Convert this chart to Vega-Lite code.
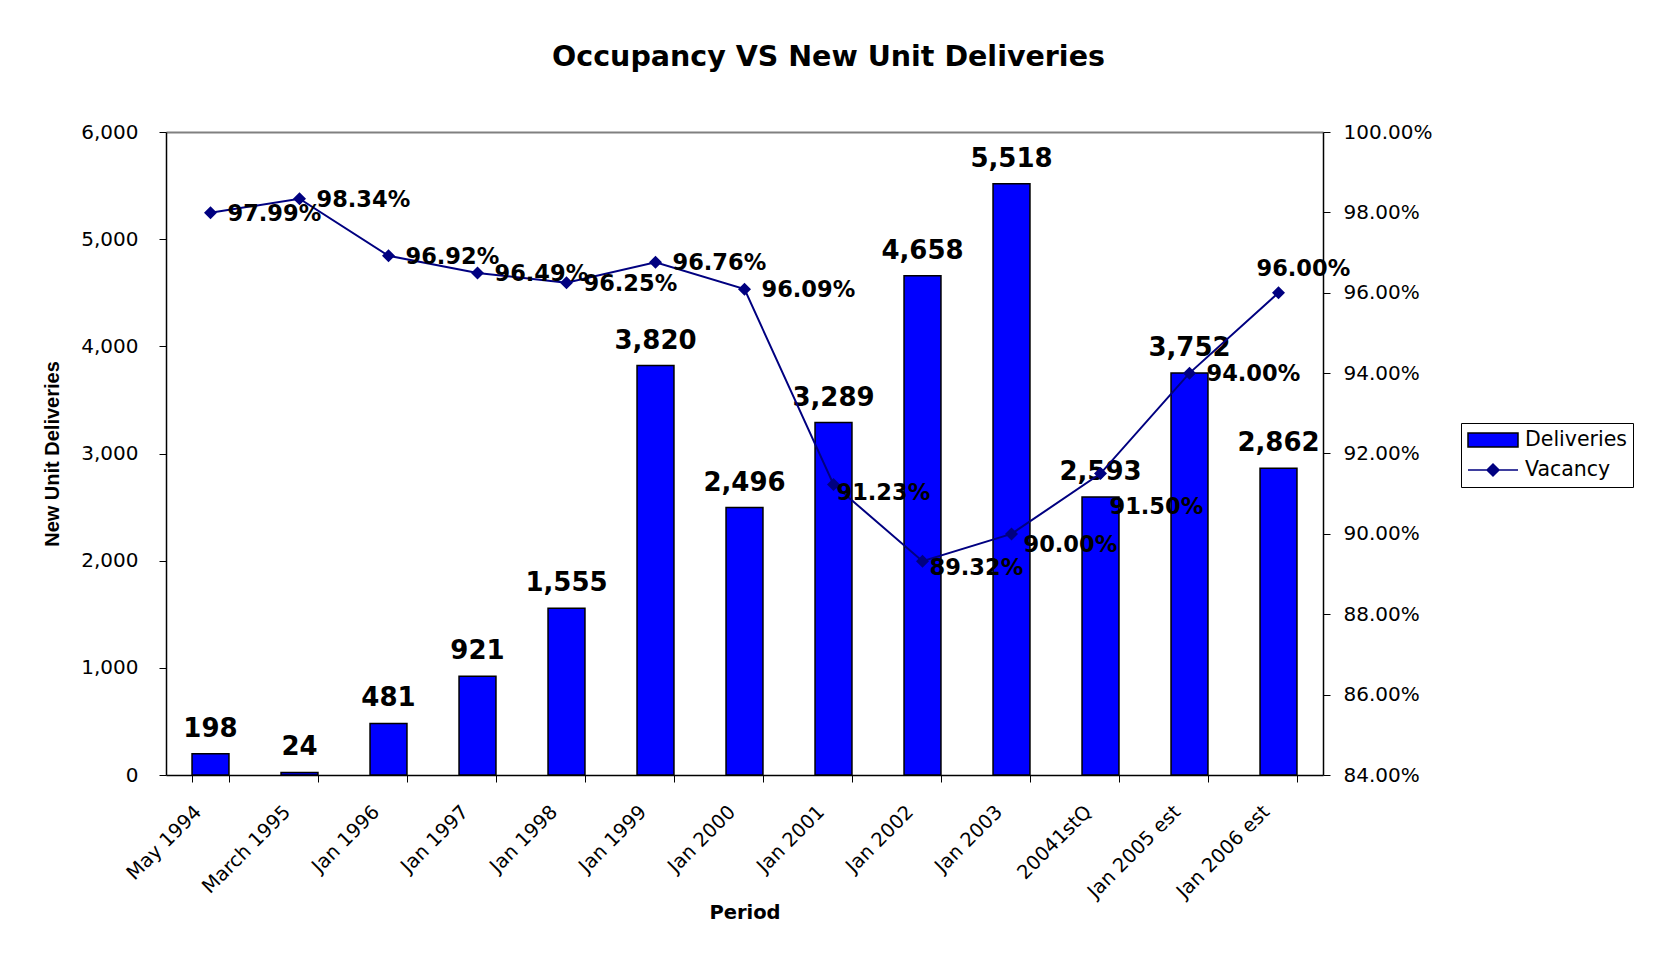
{
  "$schema": "https://vega.github.io/schema/vega-lite/v6.json",
  "width": 1157,
  "height": 643,
  "autosize": {"type": "none"},
  "padding": {"left": 166, "top": 132, "right": 337, "bottom": 179},
  "background": "white",
  "title": {
    "text": "Occupancy VS New Unit Deliveries",
    "font": "DejaVu Sans",
    "fontSize": 28.5,
    "fontWeight": "bold",
    "color": "black",
    "anchor": "middle",
    "frame": "group",
    "baseline": "alphabetic",
    "dx": 84,
    "offset": 28
  },
  "data": {
    "values": [
      {"period": "May 1994", "deliveries": 198, "vacancy": 0.9799},
      {"period": "March 1995", "deliveries": 24, "vacancy": 0.9834},
      {"period": "Jan 1996", "deliveries": 481, "vacancy": 0.9692},
      {"period": "Jan 1997", "deliveries": 921, "vacancy": 0.9649},
      {"period": "Jan 1998", "deliveries": 1555, "vacancy": 0.9625},
      {"period": "Jan 1999", "deliveries": 3820, "vacancy": 0.9676},
      {"period": "Jan 2000", "deliveries": 2496, "vacancy": 0.9609},
      {"period": "Jan 2001", "deliveries": 3289, "vacancy": 0.9123},
      {"period": "Jan 2002", "deliveries": 4658, "vacancy": 0.8932},
      {"period": "Jan 2003", "deliveries": 5518, "vacancy": 0.9},
      {"period": "20041stQ", "deliveries": 2593, "vacancy": 0.915},
      {"period": "Jan 2005 est", "deliveries": 3752, "vacancy": 0.94},
      {"period": "Jan 2006 est", "deliveries": 2862, "vacancy": 0.96}
    ]
  },
  "encoding": {
    "x": {
      "field": "period",
      "type": "nominal",
      "sort": null,
      "scale": {"paddingInner": 0.585, "paddingOuter": 0.2925},
      "axis": {
        "title": "Period",
        "titleFont": "DejaVu Sans",
        "titleFontSize": 19.5,
        "titleFontWeight": "bold",
        "titleColor": "black",
        "titlePadding": 2,
        "tickBand": "extent",
        "tickSize": 7,
        "tickColor": "black",
        "domainColor": "black",
        "domainWidth": 1.5,
        "labelAngle": -45,
        "labelAlign": "right",
        "labelBaseline": "top",
        "labelOffset": -19,
        "labelPadding": 20,
        "labelFont": "DejaVu Sans",
        "labelFontSize": 19.5,
        "labelColor": "black",
        "labelOverlap": false,
        "labelBound": false,
        "labelFlush": false,
        "labelLimit": 300,
        "grid": false
      }
    }
  },
  "layer": [
    {
      "encoding": {
        "y": {
          "field": "deliveries",
          "type": "quantitative",
          "scale": {"domain": [0, 6000], "nice": false},
          "axis": {
            "orient": "left",
            "values": [0, 1000, 2000, 3000, 4000, 5000, 6000],
            "format": ",d",
            "title": "New Unit Deliveries",
            "titleFont": "Liberation Sans",
            "titleFontSize": 20,
            "titleFontWeight": "bold",
            "titleColor": "black",
            "titlePadding": 18,
            "labelFont": "DejaVu Sans",
            "labelFontSize": 20,
            "labelColor": "black",
            "labelPadding": 21,
            "tickSize": 7,
            "tickColor": "black",
            "domainColor": "black",
            "domainWidth": 1.5,
            "grid": true,
            "gridColor": "#808080",
            "gridWidth": 2,
            "gridOpacity": {"condition": {"test": "datum.value === 6000", "value": 1}, "value": 0}
          }
        }
      },
      "layer": [
        {
          "mark": {"type": "bar", "stroke": "black", "strokeWidth": 1.5},
          "encoding": {
            "color": {
              "datum": "Deliveries",
              "scale": {"domain": ["Deliveries", "Vacancy"], "range": ["#0000ff", "#000080"]},
              "legend": {
                "orient": "none",
                "legendX": 1295,
                "legendY": 291,
                "title": null,
                "strokeColor": "black",
                "fillColor": "white",
                "padding": 6,
                "rowPadding": 8,
                "labelOffset": 36,
                "labelFont": "DejaVu Sans",
                "labelFontSize": 20.5,
                "labelColor": "black",
                "symbolSize": 400,
                "symbolStrokeWidth": 1.5,
                "symbolType": {"expr": "datum.value === 'Deliveries' ? 'M-1,-0.7H4V0.7H-1Z' : 'M-1,0H4M0.9,0L1.5,-0.6L2.1,0L1.5,0.6Z'"},
                "symbolStrokeColor": {"expr": "datum.value === 'Deliveries' ? 'black' : '#000080'"}
              }
            }
          }
        },
        {
          "mark": {"type": "text", "font": "DejaVu Sans", "fontSize": 26, "fontWeight": "bold", "color": "black", "baseline": "alphabetic", "align": "center", "dy": -17},
          "encoding": {"text": {"field": "deliveries", "type": "quantitative", "format": ",d"}}
        }
      ]
    },
    {
      "encoding": {
        "y": {
          "field": "vacancy",
          "type": "quantitative",
          "scale": {"domain": [0.84, 1], "nice": false},
          "axis": {
            "orient": "right",
            "values": [0.84, 0.86, 0.88, 0.9, 0.92, 0.94, 0.96, 0.98, 1],
            "format": ".2%",
            "title": null,
            "labelFont": "DejaVu Sans",
            "labelFontSize": 20,
            "labelColor": "black",
            "labelPadding": 13,
            "tickSize": 7,
            "tickColor": "black",
            "domainColor": "black",
            "domainWidth": 1.5,
            "grid": false
          }
        }
      },
      "layer": [
        {
          "mark": {"type": "line", "strokeWidth": 2, "color": "#000080"},
          "encoding": {}
        },
        {
          "mark": {"type": "point", "shape": "diamond", "filled": true, "size": 169, "opacity": 1, "color": "#000080"},
          "encoding": {}
        },
        {
          "transform": [{"filter": {"field": "period", "oneOf": ["May 1994", "March 1995", "Jan 1996", "Jan 1997", "Jan 1998", "Jan 1999", "Jan 2000", "Jan 2005 est"]}}],
          "mark": {"type": "text", "font": "DejaVu Sans", "fontSize": 22.5, "fontWeight": "bold", "color": "black", "align": "left", "baseline": "middle", "dx": 17, "dy": 1},
          "encoding": {"text": {"field": "vacancy", "type": "quantitative", "format": ".2%"}}
        },
        {
          "transform": [{"filter": {"field": "period", "equal": "Jan 2001"}}],
          "mark": {"type": "text", "font": "DejaVu Sans", "fontSize": 22.5, "fontWeight": "bold", "color": "black", "align": "left", "baseline": "middle", "dx": 3, "dy": 9},
          "encoding": {"text": {"field": "vacancy", "type": "quantitative", "format": ".2%"}}
        },
        {
          "transform": [{"filter": {"field": "period", "equal": "Jan 2002"}}],
          "mark": {"type": "text", "font": "DejaVu Sans", "fontSize": 22.5, "fontWeight": "bold", "color": "black", "align": "left", "baseline": "middle", "dx": 7, "dy": 7},
          "encoding": {"text": {"field": "vacancy", "type": "quantitative", "format": ".2%"}}
        },
        {
          "transform": [{"filter": {"field": "period", "equal": "Jan 2003"}}],
          "mark": {"type": "text", "font": "DejaVu Sans", "fontSize": 22.5, "fontWeight": "bold", "color": "black", "align": "left", "baseline": "middle", "dx": 12, "dy": 11},
          "encoding": {"text": {"field": "vacancy", "type": "quantitative", "format": ".2%"}}
        },
        {
          "transform": [{"filter": {"field": "period", "equal": "20041stQ"}}],
          "mark": {"type": "text", "font": "DejaVu Sans", "fontSize": 22.5, "fontWeight": "bold", "color": "black", "align": "left", "baseline": "middle", "dx": 9, "dy": 33},
          "encoding": {"text": {"field": "vacancy", "type": "quantitative", "format": ".2%"}}
        },
        {
          "transform": [{"filter": {"field": "period", "equal": "Jan 2006 est"}}],
          "mark": {"type": "text", "font": "DejaVu Sans", "fontSize": 22.5, "fontWeight": "bold", "color": "black", "align": "left", "baseline": "middle", "dx": -22, "dy": -24},
          "encoding": {"text": {"field": "vacancy", "type": "quantitative", "format": ".2%"}}
        }
      ]
    }
  ],
  "resolve": {"scale": {"y": "independent"}},
  "config": {
    "font": "DejaVu Sans",
    "view": {"stroke": null}
  }
}
